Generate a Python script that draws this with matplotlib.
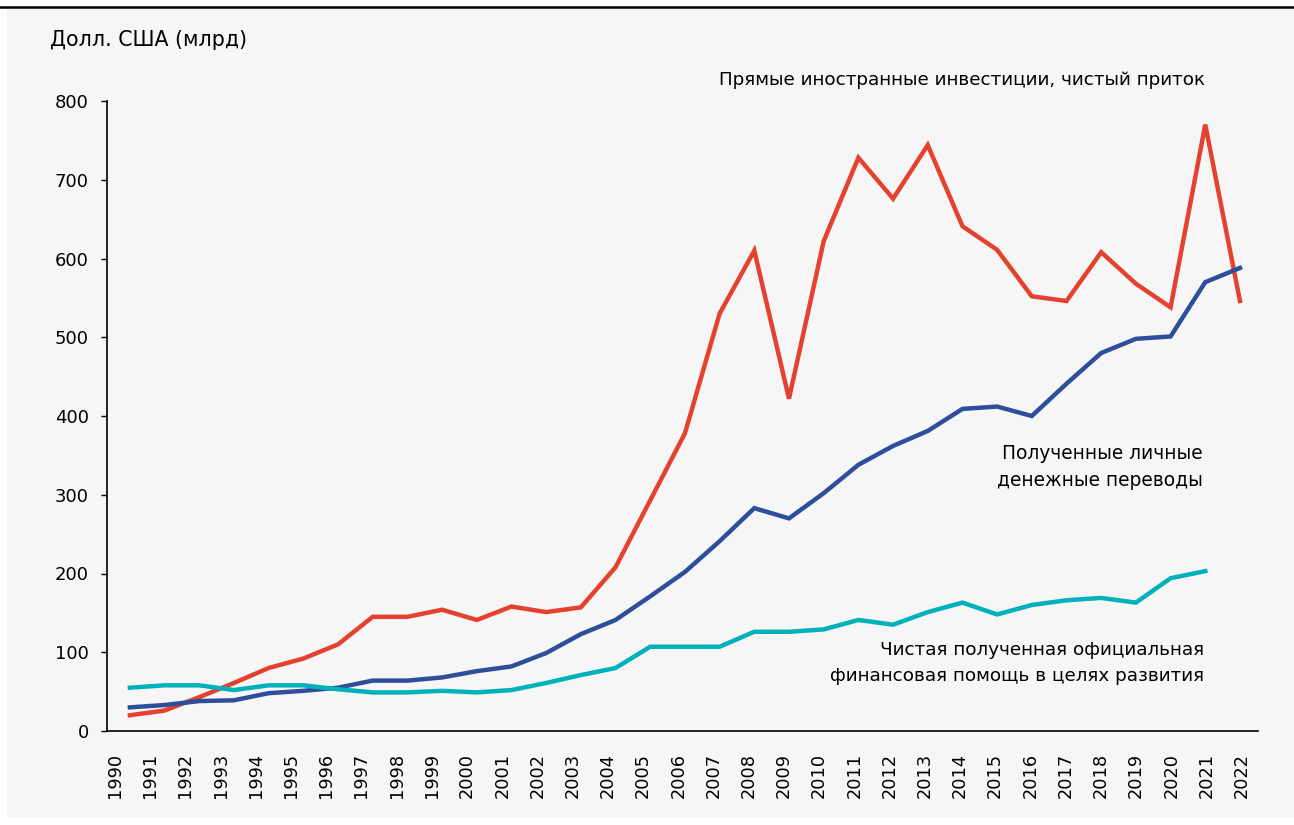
import matplotlib
matplotlib.use("Agg")
import matplotlib.pyplot as plt
import numpy as np
from matplotlib.patches import Rectangle
from matplotlib.lines import Line2D

plt.rcParams['font.family'] = ['DejaVu Sans']

years = list(range(1990, 2023))
fdi = [20, 26, 43, 61, 80, 92, 110, 145, 145, 154, 141, 158, 151, 157, 208,
       293, 378, 530, 610, 422, 622, 728, 676, 744, 641, 611, 552, 546, 608,
       568, 538, 770, 546]
remit = [30, 33, 38, 39, 48, 51, 55, 64, 64, 68, 76, 82, 99, 123, 141,
         171, 202, 241, 283, 270, 302, 338, 362, 381, 409, 412, 400, 441, 480,
         498, 501, 570, 588]
oda = [55, 58, 58, 52, 58, 58, 53, 49, 49, 51, 49, 52, 61, 71, 80,
       107, 107, 107, 126, 126, 129, 141, 135, 151, 163, 148, 160, 166, 169,
       163, 194, 203]
yticks = [0, 100, 200, 300, 400, 500, 600, 700, 800]
ylabel = "Долл. США (млрд)"
lab_fdi = "Прямые иностранные инвестиции, чистый приток"
lab_remit = "Полученные личные\nденежные переводы"
lab_oda = "Чистая полученная официальная\nфинансовая помощь в целях развития"

c_red = "#E5412F"
c_blue = "#2D4F9B"
c_teal = "#00B1BB"

W, H = 1294, 825
fig = plt.figure(figsize=(W / 100, H / 100), dpi=100)
fig.patch.set_facecolor("white")
fig.patches.append(Rectangle((7 / W, 1 - 818 / H), 1 - 7 / W, (818 - 9) / H,
                             transform=fig.transFigure, facecolor="#F6F6F6",
                             edgecolor="none", zorder=-5))
fig.lines.append(Line2D([0, 1], [1 - 7 / H, 1 - 7 / H], transform=fig.transFigure,
                        color="black", lw=1.8, zorder=-4))

ax = fig.add_axes([107 / W, 1 - 731 / H, (1258 - 107) / W, (731 - 101) / H])
ax.set_facecolor("none")

ax.plot(years, fdi, color=c_red, lw=3.2, solid_joinstyle="miter", zorder=3)
ax.plot(years, remit, color=c_blue, lw=3.2, solid_joinstyle="miter", zorder=3)
ax.plot(years[:len(oda)], oda, color=c_teal, lw=3.2, solid_joinstyle="miter", zorder=3)

ax.set_xlim(1989.34, 2022.52)
ax.set_ylim(0, 800)
ax.set_yticks(yticks)
ax.set_yticklabels([str(v) for v in yticks], fontsize=13)
ax.tick_params(axis="y", length=4, width=1, pad=9, color="black")

# category labels (slightly wider spread than the plotted points, as in the source)
tick_pos = np.linspace(1989.57, 2022.05, len(years))
ax.set_xticks(tick_pos)
ax.set_xticklabels([str(y) for y in years], rotation=90, fontsize=12.8)
ax.tick_params(axis="x", length=0, pad=16)

for s in ["top", "right"]:
    ax.spines[s].set_visible(False)
for s in ["left", "bottom"]:
    ax.spines[s].set_color("black")
    ax.spines[s].set_linewidth(1.2)

fig.text(50 / W, 1 - 40 / H, ylabel, fontsize=14.8, ha="left", va="center")

ax.annotate(lab_fdi, xy=(1205 / W, 1 - 80 / H), xycoords="figure fraction",
            ha="right", va="center", fontsize=13.2)
ax.annotate(lab_remit, xy=(1203 / W, 1 - 467 / H), xycoords="figure fraction",
            ha="right", va="center", fontsize=13.4, linespacing=1.55)
ax.annotate(lab_oda, xy=(1204 / W, 1 - 663 / H), xycoords="figure fraction",
            ha="right", va="center", fontsize=13.2, linespacing=1.55)

fig.savefig("out.png", dpi=100, facecolor=fig.get_facecolor())
